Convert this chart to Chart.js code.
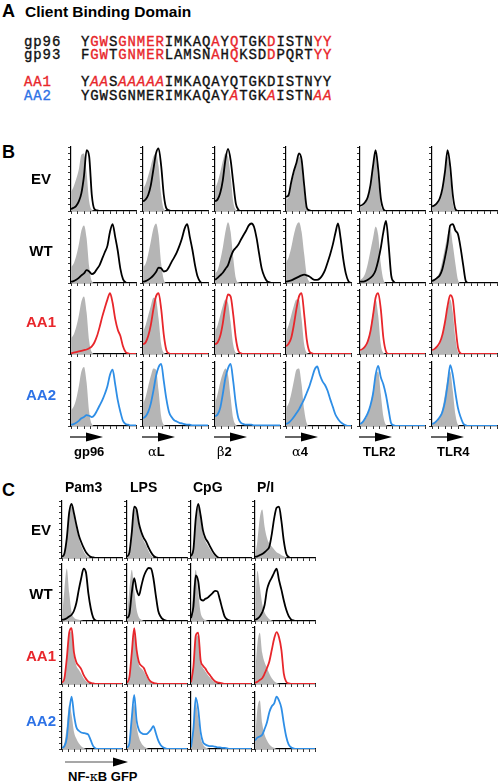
<!DOCTYPE html>
<html><head><meta charset="utf-8">
<script src="https://cdn.jsdelivr.net/npm/chart.js@4.4.1/dist/chart.umd.min.js"></script>
<style>
html,body{margin:0;padding:0;background:#fff;}
body{width:500px;height:782px;position:relative;overflow:hidden;font-family:"Liberation Sans",Arial,sans-serif;color:#000;}
.t{position:absolute;white-space:nowrap;font-weight:bold;line-height:1;}
.mono{position:absolute;white-space:pre;font-family:"Liberation Mono","Courier New",monospace;font-size:14px;line-height:14px;letter-spacing:0.9px;color:#111;-webkit-text-stroke:0.35px currentColor;}
.r{color:#e8262b}
.ri{color:#e8262b;font-style:italic}
.red{color:#e8262b}
.blue{color:#2d72e6}
.gk{font-family:"DejaVu Serif","Liberation Serif",serif;font-weight:normal;}
.rowlab{position:absolute;width:60px;text-align:center;font-weight:bold;font-size:15px;line-height:1;}
canvas{position:absolute;}
svg{position:absolute;left:0;top:0;}
</style></head><body>

<div class="t" style="left:2px;top:2px;font-size:18px;">A</div>
<div class="t" style="left:25px;top:4px;font-size:15.5px;">Client Binding Domain</div>
<div class="mono" style="left:24px;top:35px;">gp96</div>
<div class="mono" style="left:81px;top:35px;">Y<span class="r">GW</span>S<span class="r">GNMER</span>IMKAQ<span class="r">A</span>Y<span class="r">Q</span>TGK<span class="r">D</span>ISTN<span class="r">YY</span></div>
<div class="mono" style="left:24px;top:48px;">gp93</div>
<div class="mono" style="left:81px;top:48px;">F<span class="r">GW</span>T<span class="r">GNMER</span>LAMSN<span class="r">A</span>H<span class="r">Q</span>KSD<span class="r">D</span>PQRT<span class="r">YY</span></div>
<div class="mono red" style="left:24px;top:75px;">AA1</div>
<div class="mono" style="left:81px;top:75px;">Y<span class="ri">AA</span>S<span class="ri">AAAAA</span>IMKAQAYQTGKDISTNYY</div>
<div class="mono blue" style="left:24px;top:89px;">AA2</div>
<div class="mono" style="left:81px;top:89px;">YGWSGNMERIMKAQAY<span class="ri">A</span>TGK<span class="ri">A</span>ISTN<span class="ri">AA</span></div>

<div class="t" style="left:2px;top:143px;font-size:18px;">B</div>
<div class="t" style="left:2px;top:481px;font-size:18px;">C</div>
<div class="t" style="left:68px;top:770px;font-size:13px;">NF-<span class="gk">κ</span>B GFP</div>

<svg id="arrows" width="500" height="782"></svg>

<script>
// ---------------- data ----------------
const bins = [0,1,2,3,4,5,6,7,8,9,10,11,12,13,14,15,16,17,18,19,20,21,22,23,24,25];
const rowLabels = ['EV','WT','AA1','AA2'];
const bMarkers = ['gp96','\u03b1L','\u03b22','\u03b14','TLR2','TLR4'];
const cStimuli = ['Pam3','LPS','CpG','P/I'];

// Panel B - control (grey filled) per row, columns gp96, aL, b2, a4, TLR2, TLR4
const bCtrlEV = [
 [30,38,50,65,88,90,60,15,2,0, 0,0,0,0,0,0,0,0,0,0, 0,0,0,0,0,0],
 [35,42,55,70,85,90,70,25,3,0, 0,0,0,0,0,0,0,0,0,0, 0,0,0,0,0,0],
 [35,45,60,78,90,85,55,15,2,0, 0,0,0,0,0,0,0,0,0,0, 0,0,0,0,0,0],
 [18,22,40,58,72,85,72,30,3,0, 0,0,0,0,0,0,0,0,0,0, 0,0,0,0,0,0],
 [6,8,12,20,38,68,88,50,10,1, 0,0,0,0,0,0,0,0,0,0, 0,0,0,0,0,0],
 [6,8,12,18,32,60,85,55,12,1, 0,0,0,0,0,0,0,0,0,0, 0,0,0,0,0,0]
];
const bCtrlWT = [
 [25,30,42,60,82,90,70,25,3,0, 0,0,0,0,0,0,0,0,0,0, 0,0,0,0,0,0],
 [25,30,45,65,85,93,75,30,5,0, 0,0,0,0,0,0,0,0,0,0, 0,0,0,0,0,0],
 [15,20,35,55,80,95,80,40,8,1, 0,0,0,0,0,0,0,0,0,0, 0,0,0,0,0,0],
 [32,40,55,75,90,95,80,45,12,2, 0,0,0,0,0,0,0,0,0,0, 0,0,0,0,0,0],
 [5,8,15,30,50,70,88,75,30,5, 0,0,0,0,0,0,0,0,0,0, 0,0,0,0,0,0],
 [4,6,10,18,35,55,75,85,60,30, 5,0,0,0,0,0,0,0,0,0, 0,0,0,0,0,0]
];
const bCtrlAA1 = [
 [25,30,42,60,82,90,65,20,3,0, 0,0,0,0,0,0,0,0,0,0, 0,0,0,0,0,0],
 [35,45,60,75,88,85,55,15,2,0, 0,0,0,0,0,0,0,0,0,0, 0,0,0,0,0,0],
 [35,45,60,75,85,80,50,15,2,0, 0,0,0,0,0,0,0,0,0,0, 0,0,0,0,0,0],
 [35,45,60,75,85,85,55,15,2,0, 0,0,0,0,0,0,0,0,0,0, 0,0,0,0,0,0],
 [5,7,12,22,40,65,85,60,15,2, 0,0,0,0,0,0,0,0,0,0, 0,0,0,0,0,0],
 [5,7,10,15,28,48,70,85,65,25, 3,0,0,0,0,0,0,0,0,0, 0,0,0,0,0,0]
];
const bCtrlAA2 = [
 [25,30,42,62,85,92,68,22,3,0, 0,0,0,0,0,0,0,0,0,0, 0,0,0,0,0,0],
 [35,45,62,78,90,88,55,15,2,0, 0,0,0,0,0,0,0,0,0,0, 0,0,0,0,0,0],
 [35,50,68,82,90,80,45,12,2,0, 0,0,0,0,0,0,0,0,0,0, 0,0,0,0,0,0],
 [28,35,50,70,88,90,65,25,4,0, 0,0,0,0,0,0,0,0,0,0, 0,0,0,0,0,0],
 [4,6,10,18,32,55,78,85,50,15, 2,0,0,0,0,0,0,0,0,0, 0,0,0,0,0,0],
 [4,6,10,15,28,50,75,85,55,18, 2,0,0,0,0,0,0,0,0,0, 0,0,0,0,0,0]
];
// Panel B - stained cells (line)
const bEV = [
 [3,5,8,15,28,55,95,85,25,3, 1,0,0,0,0,0,0,0,0,0, 0,0,0,0,0,0],
 [15,18,25,40,65,90,98,70,25,4, 1,0,0,0,0,0,0,0,0,0, 0,0,0,0,0,0],
 [15,18,28,48,80,97,80,45,12,2, 0,0,0,0,0,0,0,0,0,0, 0,0,0,0,0,0],
 [22,25,45,62,75,90,80,40,5,1, 0,0,0,0,0,0,0,0,0,0, 0,0,0,0,0,0],
 [8,10,14,22,40,70,95,65,20,3, 0,0,0,0,0,0,0,0,0,0, 0,0,0,0,0,0],
 [7,9,13,20,35,62,95,70,25,3, 0,0,0,0,0,0,0,0,0,0, 0,0,0,0,0,0]
];
const bWT = [
 [2,3,5,8,12,15,20,18,14,16, 22,28,38,48,58,80,92,72,50,22, 6,1,0,0,0,0],
 [2,3,5,8,12,17,24,23,18,19, 25,33,40,48,58,70,85,92,72,52, 28,10,2,0,0,0],
 [5,8,12,16,22,28,40,50,55,60, 68,75,82,90,93,88,70,45,22,10, 3,1,0,0,0,0],
 [2,3,4,6,8,10,12,13,12,10, 7,5,5,7,12,20,32,45,60,78, 93,70,38,15,3,0],
 [2,2,3,5,8,12,20,35,55,80, 97,60,12,2,0,0,0,0,0,0, 0,0,0,0,0,0],
 [3,5,8,12,22,40,62,90,92,82, 76,55,28,3,0,0,0,0,0,0, 0,0,0,0,0,0]
];
const bAA1 = [
 [1,2,3,4,5,6,7,9,12,18, 28,42,58,72,85,95,80,55,38,28, 12,3,1,0,0,0],
 [15,18,28,45,70,90,95,70,30,6, 1,0,0,0,0,0,0,0,0,0, 0,0,0,0,0,0],
 [15,18,28,48,75,93,90,62,25,5, 1,0,0,0,0,0,0,0,0,0, 0,0,0,0,0,0],
 [12,16,25,45,70,90,95,62,22,4, 1,0,0,0,0,0,0,0,0,0, 0,0,0,0,0,0],
 [6,8,12,20,35,60,88,95,70,25, 4,0,0,0,0,0,0,0,0,0, 0,0,0,0,0,0],
 [6,8,12,18,30,50,75,92,85,45, 10,1,0,0,0,0,0,0,0,0, 0,0,0,0,0,0]
];
const bAA2 = [
 [2,3,5,8,12,14,17,16,14,17, 24,32,40,50,62,80,88,65,40,22, 8,3,2,1,1,1],
 [12,15,22,35,55,78,92,97,70,42, 22,14,9,7,5,4,3,2,2,1, 1,1,1,1,1,1],
 [15,18,28,50,75,90,97,70,35,12, 5,3,2,2,2,1,1,1,1,1, 1,1,1,1,1,1],
 [3,5,9,14,20,26,34,42,52,62, 75,88,93,80,70,64,55,42,30,18, 11,6,3,1,0,0],
 [3,6,12,20,32,50,80,94,76,65, 48,25,4,1,0,0,0,0,0,0, 0,0,0,0,0,0],
 [3,5,9,14,22,38,65,95,80,52, 28,14,4,1,0,0,0,0,0,0, 0,0,0,0,0,0]
];

// Panel C - unstimulated (grey) per row, columns Pam3, LPS, CpG, P/I
const cCtrlEV = [
 [1,6,32,78,90,72,52,35,22,12, 5,2,0,0,0,0,0,0,0,0, 0,0,0,0,0,0],
 [1,8,42,85,80,55,40,30,22,12, 5,1,0,0,0,0,0,0,0,0, 0,0,0,0,0,0],
 [2,12,65,90,68,42,30,22,15,8, 3,1,0,0,0,0,0,0,0,0, 0,0,0,0,0,0],
 [5,30,70,85,55,35,25,20,15,10, 8,5,3,1,0,0,0,0,0,0, 0,0,0,0,0,0]
];
const cCtrlWT = [
 [5,55,92,50,15,6,3,2,1,0, 0,0,0,0,0,0,0,0,0,0, 0,0,0,0,0,0],
 [8,55,90,55,20,6,2,0,0,0, 0,0,0,0,0,0,0,0,0,0, 0,0,0,0,0,0],
 [8,55,90,50,15,5,2,0,0,0, 0,0,0,0,0,0,0,0,0,0, 0,0,0,0,0,0],
 [10,88,60,30,15,8,3,1,0,0, 0,0,0,0,0,0,0,0,0,0, 0,0,0,0,0,0]
];
const cCtrlAA1 = [
 [1,8,40,85,92,50,32,25,18,10, 5,2,0,0,0,0,0,0,0,0, 0,0,0,0,0,0],
 [1,10,50,90,55,33,27,22,14,7, 3,1,0,0,0,0,0,0,0,0, 0,0,0,0,0,0],
 [2,25,80,85,38,28,22,16,11,6, 3,1,0,0,0,0,0,0,0,0, 0,0,0,0,0,0],
 [15,70,90,55,38,28,18,10,5,2, 0,0,0,0,0,0,0,0,0,0, 0,0,0,0,0,0]
];
const cCtrlAA2 = [
 [2,10,40,78,60,30,18,10,5,2, 0,0,0,0,0,0,0,0,0,0, 0,0,0,0,0,0],
 [2,15,60,78,40,20,10,5,2,0, 0,0,0,0,0,0,0,0,0,0, 0,0,0,0,0,0],
 [3,30,80,55,20,8,3,1,0,0, 0,0,0,0,0,0,0,0,0,0, 0,0,0,0,0,0],
 [15,70,85,45,25,15,8,4,2,0, 0,0,0,0,0,0,0,0,0,0, 0,0,0,0,0,0]
];
// Panel C - stimulated (line)
const cEV = [
 [2,8,35,80,95,78,58,40,28,18, 10,5,2,1,0,0,0,0,0,0, 0,0,0,0,0,0],
 [2,10,45,90,85,60,45,35,28,18, 10,4,1,0,0,0,0,0,0,0, 0,0,0,0,0,0],
 [3,15,70,95,75,48,35,28,20,12, 6,2,0,0,0,0,0,0,0,0, 0,0,0,0,0,0],
 [2,3,5,7,10,14,20,42,70,88, 90,65,30,8,2,0,0,0,0,0, 0,0,0,0,0,0]
];
const cWT = [
 [2,3,5,8,11,18,32,55,75,92, 85,48,22,6,1,0,0,0,0,0, 0,0,0,0,0,0],
 [5,12,50,75,55,45,62,78,88,93, 92,75,45,18,8,3,1,0,0,0, 0,0,0,0,0,0],
 [5,25,80,70,38,36,39,41,45,49, 53,52,38,22,8,3,1,0,0,0, 0,0,0,0,0,0],
 [2,4,8,15,28,55,68,76,85,92, 72,55,36,20,9,3,1,0,0,0, 0,0,0,0,0,0]
];
const cAA1 = [
 [2,10,45,90,98,55,38,32,26,16, 9,4,2,1,0,0,0,0,0,0, 0,0,0,0,0,0],
 [2,12,55,98,60,38,32,28,18,9, 4,2,1,0,0,0,0,0,0,0, 0,0,0,0,0,0],
 [3,30,85,90,42,32,27,20,15,9, 5,3,2,1,0,0,0,0,0,0, 0,0,0,0,0,0],
 [2,4,7,10,18,28,40,60,80,91, 82,60,18,4,1,0,0,0,0,0, 0,0,0,0,0,0]
];
const cAA2 = [
 [2,5,20,65,92,60,38,32,29,28, 27,25,15,5,1,0,0,0,0,0, 0,0,0,0,0,0],
 [2,10,55,95,50,33,28,26,26,29, 34,40,28,15,7,3,1,0,0,0, 0,0,0,0,0,0],
 [3,35,90,70,30,12,8,6,5,5, 4,3,3,2,2,1,0,0,0,0, 0,0,0,0,0,0],
 [15,20,22,25,35,47,65,75,80,92, 85,72,45,22,8,3,1,0,0,0, 0,0,0,0,0,0]
];

// ---------------- layout & style ----------------
const GREY = '#b5b5b5';
const rowColors = ['#000000','#000000','#e8262b','#2e8ee6'];
const labelColors = ['#000000','#000000','#e8262b','#2d72e6'];
const bColX = [71,143,215,286,360,432], bRowY = [147,219,290,362], bW = 65, bH = 64;
const cColX = [62,127,191,255], cRowY = [501,564,627,692], cW = 60, cH = 57;

function axisCfg(step, max){
  return {
    type:'linear', min:0, max:max,
    ticks:{display:false, stepSize:step},
    grid:{drawOnChartArea:false, drawTicks:true, tickLength:3, color:'#000', lineWidth:0.8},
    border:{display:true, color:'#000', width:1.2}
  };
}
function makeChart(cv, ctrl, sample, color){
  return new Chart(cv.getContext('2d'), {
    type:'line',
    data:{labels:bins, datasets:[
      {data:sample, fill:false, borderColor:color, borderWidth:1.8, pointRadius:0, cubicInterpolationMode:'monotone'},
      {data:ctrl, fill:'origin', backgroundColor:GREY, borderColor:GREY, borderWidth:0, pointRadius:0, cubicInterpolationMode:'monotone'}
    ]},
    options:{
      animation:false, responsive:false, devicePixelRatio:1, events:[],
      layout:{padding:{top:3,right:3,left:0,bottom:0}},
      plugins:{legend:{display:false}, tooltip:{enabled:false}},
      scales:{x:axisCfg(2.5,25), y:axisCfg(10,100)}
    }
  });
}
// probe chart-area offsets
const probe = document.createElement('canvas');
probe.width = 100; probe.height = 100;
document.body.appendChild(probe);
const pch = makeChart(probe, bCtrlEV[0], bEV[0], '#000');
const ca = pch.chartArea;
const offL = ca.left, offT = ca.top, offR = 100 - ca.right, offB = 100 - ca.bottom;
pch.destroy(); probe.remove();

function hist(x0, y0, w, h, ctrl, sample, color){
  const cv = document.createElement('canvas');
  cv.width = Math.round(w + offL + offR);
  cv.height = Math.round(h + offT + offB);
  cv.style.left = (x0 - offL) + 'px';
  cv.style.top = (y0 - offT) + 'px';
  document.body.appendChild(cv);
  makeChart(cv, ctrl, sample, color);
}

const bCtrl = [bCtrlEV, bCtrlWT, bCtrlAA1, bCtrlAA2];
const bSample = [bEV, bWT, bAA1, bAA2];
const cCtrl = [cCtrlEV, cCtrlWT, cCtrlAA1, cCtrlAA2];
const cSample = [cEV, cWT, cAA1, cAA2];

for (let r = 0; r < 4; r++) {
  for (let c = 0; c < 6; c++) hist(bColX[c], bRowY[r], bW, bH, bCtrl[r][c], bSample[r][c], rowColors[r]);
  for (let c = 0; c < 4; c++) hist(cColX[c], cRowY[r], cW, cH, cCtrl[r][c], cSample[r][c], rowColors[r]);
}

function addText(html, cls, left, top, extra){
  const d = document.createElement('div');
  d.className = cls; d.innerHTML = html;
  d.style.left = left + 'px'; d.style.top = top + 'px';
  if (extra) Object.assign(d.style, extra);
  document.body.appendChild(d);
  return d;
}
const bLabY = [179, 251, 322, 395], cLabY = [530, 594, 656, 721];
for (let r = 0; r < 4; r++) {
  addText(rowLabels[r], 'rowlab', 11, bLabY[r] - 8, {color: labelColors[r]});
  addText(rowLabels[r], 'rowlab', 11, cLabY[r] - 8, {color: labelColors[r]});
}
const bLabX = [74,148,217,292,363,437];
bMarkers.forEach((m, i) => {
  const html = m.replace(/([\u03b1\u03b2])/g, '<span class="gk">$1</span>');
  addText(html, 't', bLabX[i], 445, {fontSize:'13px'});
});
const cLabX = [65,130,193,257];
cStimuli.forEach((s, i) => addText(s, 't', cLabX[i], 480, {fontSize:'14px'}));

// arrows
const svg = document.getElementById('arrows');
let s = '';
bColX.forEach(x => {
  s += `<line x1="${x-1}" y1="437" x2="${x+16}" y2="437" stroke="#000" stroke-width="1.2"/>`;
  s += `<polygon points="${x+15},432.5 ${x+15},441.5 ${x+32},437" fill="#000"/>`;
});
s += `<line x1="65" y1="762" x2="114" y2="762" stroke="#8a8a8a" stroke-width="1.3"/>`;
s += `<polygon points="113,757.5 113,766.5 128,762" fill="#000"/>`;
svg.innerHTML = s;
</script>
</body></html>
